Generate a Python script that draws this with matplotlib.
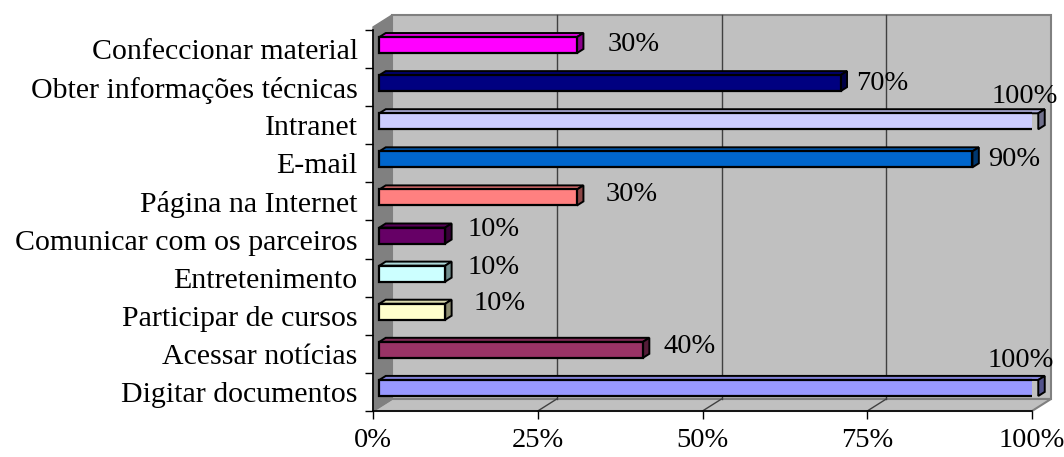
import numpy as np
import matplotlib
matplotlib.use('Agg')
import matplotlib.pyplot as plt
from matplotlib.patches import Polygon
from matplotlib.colors import to_rgb

# data, bottom to top
categories = ['Digitar documentos', 'Acessar notícias', 'Participar de cursos',
              'Entretenimento', 'Comunicar com os parceiros', 'Página na Internet',
              'E-mail', 'Intranet', 'Obter informações técnicas', 'Confeccionar material']
values = [100, 40, 10, 10, 10, 30, 90, 100, 70, 30]
colors = ['#9999FF', '#993366', '#FFFFCC', '#CCFFFF', '#660066',
          '#FF8080', '#0066CC', '#CCCCFF', '#000080', '#FF00FF']
xticks = [0, 25, 50, 75, 100]

# label offsets (pixels) from bar end: ha, dx, dy
label_pos = [('center', -24, 27), ('left', 14, 3), ('left', 22, 8), ('left', 16, 6),
             ('left', 16, 6), ('left', 22, 3), ('left', 9, 0), ('center', -20, 25),
             ('left', 9, 0), ('left', 24, 1)]

plt.rcParams['font.family'] = ['Liberation Serif', 'DejaVu Serif']
FS = 21.5
FS_PCT = 20.5

W, H, dpi = 1064, 457, 100
fig = plt.figure(figsize=(W/dpi, H/dpi), dpi=dpi)
ax = fig.add_axes([373/W, (H-411)/H, 659/W, 381/H])
ax.set_xlim(0, 100)
ax.set_ylim(-0.5, 9.5)

pxx = 100/659.0   # data per pixel in x
pxy = 10/381.0    # data per pixel in y
DX, DY = 19*pxx, 12*pxy   # full depth of the 3d box
ytop = 9.5 + 3*pxy

# walls and floor
left_wall = Polygon([(0, -0.5), (DX, -0.5+DY), (DX, ytop+DY), (0, ytop)],
                    closed=True, fc='#808080', ec='#808080', lw=1, clip_on=False, zorder=0)
back_wall = Polygon([(DX, -0.5+DY), (100+DX, -0.5+DY), (100+DX, ytop+DY), (DX, ytop+DY)],
                    closed=True, fc='#C0C0C0', ec='#808080', lw=1.5, clip_on=False, zorder=0)
floor = Polygon([(0, -0.5), (100, -0.5), (100+DX, -0.5+DY), (DX, -0.5+DY)],
                closed=True, fc='#C0C0C0', ec='#808080', lw=1.5, clip_on=False, zorder=0)
for p in (back_wall, floor, left_wall):
    ax.add_patch(p)

for t in xticks[1:-1]:
    ax.plot([t+DX, t+DX], [-0.5+DY, ytop+DY], color='#404040', lw=1, clip_on=False, zorder=1)
    ax.plot([t, t+DX], [-0.5, -0.5+DY], color='#404040', lw=1, clip_on=False, zorder=1)

# bars
d0, d1 = 0.33, 0.67
h = 16*pxy
y = np.arange(len(values))
x0 = d0*DX
yc = y + d0*DY
ax.barh(yc, values, left=x0, height=h, color=colors, edgecolor='black', lw=1.6, zorder=3)
ddx, ddy = (d1-d0)*DX, (d1-d0)*DY
for yi, v, c in zip(yc, values, colors):
    rgb = np.array(to_rgb(c))
    xe = x0 + v
    yb, yt = yi - h/2, yi + h/2
    top = Polygon([(x0, yt), (xe, yt), (xe+ddx, yt+ddy), (x0+ddx, yt+ddy)],
                  closed=True, fc=rgb*0.85, ec='black', lw=1.4, clip_on=False, zorder=2)
    side = Polygon([(xe, yb), (xe, yt), (xe+ddx, yt+ddy), (xe+ddx, yb+ddy)],
                   closed=True, fc=rgb*0.55, ec='black', lw=1.4, clip_on=False, zorder=2)
    ax.add_patch(top)
    ax.add_patch(side)

# value labels
for yi, v, (ha, dx, dy) in zip(yc, values, label_pos):
    ax.annotate(f'{v}%', (x0 + v + ddx, yi), xytext=(dx*0.72, dy*0.72),
                textcoords='offset points', ha=ha, va='center', fontsize=FS_PCT,
                annotation_clip=False, zorder=5)

# axes
for s in ('top', 'right'):
    ax.spines[s].set_visible(False)
ax.spines['left'].set_zorder(4)
ax.spines['bottom'].set_zorder(4)
ax.spines['left'].set_linewidth(1.2)
ax.spines['bottom'].set_linewidth(1.2)
ax.set_facecolor('none')
ax.set_xticks(xticks)
ax.set_xticklabels([f'{t}%' for t in xticks], fontsize=FS_PCT)
ax.tick_params(axis='x', length=5.5, width=1, pad=7)
ax.set_yticks(y)
ax.set_yticklabels(categories, fontsize=FS)
ax.tick_params(axis='y', which='major', length=0, pad=11)
ax.set_yticks(np.arange(-0.5, 10, 1), minor=True)
ax.tick_params(axis='y', which='minor', length=6, width=1)

fig.savefig('out.png', dpi=dpi)
plt.close(fig)
